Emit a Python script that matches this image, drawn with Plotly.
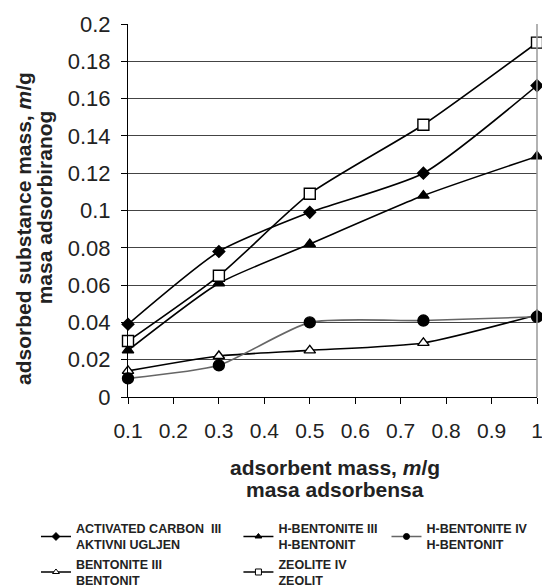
import plotly.graph_objects as go

x_mass = [0.1, 0.3, 0.5, 0.75, 1.0]
activated_carbon = [0.039, 0.078, 0.099, 0.120, 0.167]
h_bentonite_3 = [0.025, 0.061, 0.082, 0.108, 0.129]
h_bentonite_4 = [0.010, 0.017, 0.040, 0.041, 0.043]
bentonite_3 = [0.014, 0.022, 0.025, 0.029, 0.044]
zeolite_4 = [0.030, 0.065, 0.109, 0.146, 0.190]

y_ticks = [0, 0.02, 0.04, 0.06, 0.08, 0.1, 0.12, 0.14, 0.16, 0.18, 0.2]
x_ticks = [0.1, 0.2, 0.3, 0.4, 0.5, 0.6, 0.7, 0.8, 0.9, 1]

FONT = "Liberation Sans, Arial"

fig = go.Figure()


def add(name, y, symbol, size, color, legend, fill="black"):
    fig.add_trace(go.Scatter(
        x=x_mass, y=y, mode="lines+markers", showlegend=False,
        line=dict(color=color, width=1.6, shape="spline", smoothing=0.6),
        marker=dict(symbol=symbol, size=size, color=fill,
                    line=dict(color="black", width=1.4)),
        cliponaxis=False,
    ))
    # small legend sample, like the original legend keys
    fig.add_trace(go.Scatter(
        x=[None], y=[None], name="<b>" + name + "</b>", mode="lines+markers",
        line=dict(color=color, width=1.4),
        marker=dict(symbol=symbol, size=6, color=fill, line=dict(color="black", width=1)),
        legend=legend, legendgroup=name,
    ))


add("ACTIVATED CARBON  III<br>AKTIVNI UGLJEN", activated_carbon, "diamond", 9, "black", "legend")
add("BENTONITE III<br>BENTONIT", bentonite_3, "triangle-up", 10, "black", "legend", fill="white")
add("H-BENTONITE III<br>H-BENTONIT", h_bentonite_3, "triangle-up", 10, "black", "legend2")
add("ZEOLITE IV<br>ZEOLIT", zeolite_4, "square", 11, "black", "legend2", fill="white")
add("H-BENTONITE IV<br>H-BENTONIT", h_bentonite_4, "circle", 11, "#666666", "legend3")

leg = dict(font=dict(family=FONT, size=12.5, color="#222"), bgcolor="rgba(0,0,0,0)",
           orientation="v", yanchor="top", xanchor="left", tracegroupgap=1,
           itemwidth=30, traceorder="normal")

title_font = dict(size=21, family=FONT, color="#222")

fig.update_layout(
    width=542, height=588,
    margin=dict(l=128, r=5, t=24, b=191, autoexpand=False),
    paper_bgcolor="white", plot_bgcolor="white",
    font=dict(family=FONT, color="#222"),
    legend=dict(leg, x=-0.225, y=-0.313),
    legend2=dict(leg, x=0.27, y=-0.313),
    legend3=dict(leg, x=0.632, y=-0.313),
    xaxis=dict(
        range=[0.1, 1.0], tickvals=x_ticks, ticktext=[str(t) for t in x_ticks],
        showgrid=False, showline=True, linecolor="black", linewidth=1.2,
        ticks="outside", ticklen=6, tickcolor="black", ticklabeloverflow="allow",
        tickfont=dict(size=21, family=FONT, color="#222"), ticklabelstandoff=9,
        zeroline=False,
    ),
    yaxis=dict(
        range=[0, 0.2], tickvals=y_ticks, ticktext=[str(t) for t in y_ticks],
        showgrid=True, gridcolor="#444444", gridwidth=1,
        showline=True, linecolor="black", linewidth=1.2,
        ticks="outside", ticklen=6, tickcolor="black",
        tickfont=dict(size=22, family=FONT, color="#222"), ticklabelstandoff=6,
        zeroline=False,
    ),
    shapes=[dict(type="line", xref="paper", yref="paper", x0=1, x1=1, y0=0, y1=1,
                 line=dict(color="#999999", width=1.5))],
    annotations=[
        dict(text="<b>adsorbent mass, <i>m</i>/g</b>", xref="paper", yref="paper",
             x=0.506, y=-0.188, xanchor="center", yanchor="middle",
             showarrow=False, font=title_font),
        dict(text="<b>masa adsorbensa</b>", xref="paper", yref="paper",
             x=0.506, y=-0.249, xanchor="center", yanchor="middle",
             showarrow=False, font=title_font),
        dict(text="<b>adsorbed substance mass, <i>m</i>/g</b>", xref="paper", yref="paper",
             x=-0.257, y=0.453, xanchor="center", yanchor="middle", textangle=-90,
             showarrow=False, font=title_font),
        dict(text="<b>masa adsorbiranog</b>", xref="paper", yref="paper",
             x=-0.205, y=0.509, xanchor="center", yanchor="middle", textangle=-90,
             showarrow=False, font=title_font),
    ],
)

fig.write_html("out.html", config={"displayModeBar": False},
               post_script="document.body.style.margin='0';")
